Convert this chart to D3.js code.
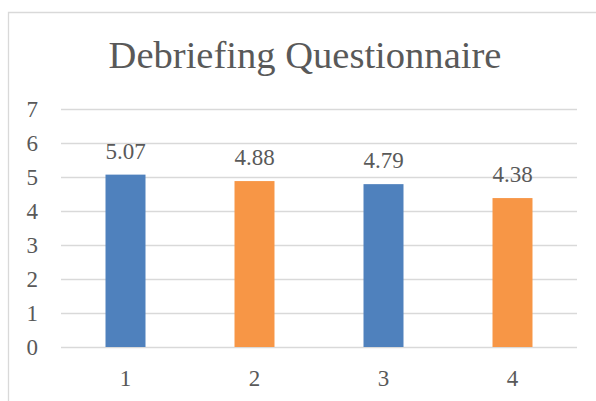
<!DOCTYPE html>
<html>
<head>
<meta charset="utf-8">
<script src="https://cdn.jsdelivr.net/npm/d3@7"></script>
<style>
  html, body { margin: 0; padding: 0; background: #fff; }
  svg { display: block; }
</style>
</head>
<body>
<script>
// Chart data
const categories = ["1", "2", "3", "4"];
const values = [5.07, 4.88, 4.79, 4.38];
const barColors = ["#4F81BD", "#F79646", "#4F81BD", "#F79646"];
const yTicks = [0, 1, 2, 3, 4, 5, 6, 7];
const title = "Debriefing Questionnaire";

const W = 596, H = 401;
const FONT = "'Liberation Serif', 'DejaVu Serif', serif";
const labelSize = "23px";
const svg = d3.select("body").append("svg").attr("width", W).attr("height", H);

// Chart frame (right and bottom edges fall outside the view)
svg.append("path")
  .attr("d", `M8.5,${H + 2}V12.5H${W + 2}`)
  .attr("fill", "none")
  .attr("stroke", "#D9D9D9")
  .attr("stroke-width", 1.3);

const plot = { left: 61, right: 577, top: 109, bottom: 347 };

const x = d3.scaleBand()
  .domain(categories)
  .range([plot.left, plot.right])
  .paddingInner(0.69)
  .paddingOuter(0.345);

const y = d3.scaleLinear().domain([0, 7]).range([plot.bottom, plot.top]);

// Horizontal gridlines
svg.append("g")
  .selectAll("line")
  .data(yTicks)
  .join("line")
  .attr("x1", plot.left).attr("x2", plot.right)
  .attr("y1", d => Math.round(y(d)) + 0.5).attr("y2", d => Math.round(y(d)) + 0.5)
  .attr("stroke", "#D9D9D9")
  .attr("stroke-width", 1.3);

// Y axis labels
const yAxis = svg.append("g")
  .attr("transform", `translate(38,0)`)
  .call(d3.axisLeft(y).tickValues(yTicks).tickSize(0).tickPadding(0).tickFormat(d3.format("d")));
yAxis.select(".domain").remove();
yAxis.selectAll("text")
  .attr("dy", "0.34em")
  .attr("fill", "#595959")
  .style("font-family", FONT)
  .style("font-size", labelSize);

// Bars
svg.append("g")
  .selectAll("rect")
  .data(values)
  .join("rect")
  .attr("x", (d, i) => x(categories[i]))
  .attr("y", d => y(d))
  .attr("width", x.bandwidth())
  .attr("height", d => y(0) - y(d))
  .attr("fill", (d, i) => barColors[i]);

// Value labels
svg.append("g")
  .selectAll("text")
  .data(values)
  .join("text")
  .attr("x", (d, i) => x(categories[i]) + x.bandwidth() / 2)
  .attr("y", d => y(d) - 16)
  .attr("text-anchor", "middle")
  .attr("fill", "#595959")
  .style("font-family", FONT)
  .style("font-size", labelSize)
  .text(d => d3.format(".2f")(d));

// X axis labels
const xAxis = svg.append("g")
  .attr("transform", `translate(0,${plot.bottom})`)
  .call(d3.axisBottom(x).tickSize(0).tickPadding(0));
xAxis.select(".domain").remove();
xAxis.selectAll("text")
  .attr("y", 39)
  .attr("dy", 0)
  .attr("fill", "#595959")
  .style("font-family", FONT)
  .style("font-size", labelSize);

// Title, sized to its slot
const t = svg.append("text")
  .attr("x", 305)
  .attr("y", 68)
  .attr("text-anchor", "middle")
  .attr("fill", "#595959")
  .style("font-family", FONT)
  .style("font-size", "39px")
  .text(title);
const tw = t.node().getComputedTextLength();
t.style("font-size", (39 * 393 / tw) + "px");
</script>
</body>
</html>
